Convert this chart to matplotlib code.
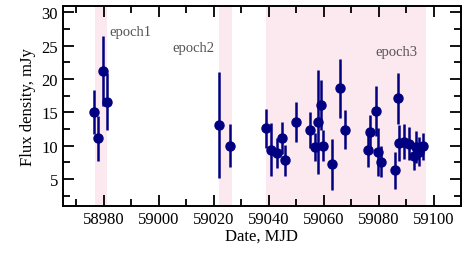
import matplotlib
matplotlib.use("Agg")
import matplotlib.pyplot as plt
from matplotlib.ticker import MultipleLocator

plt.rcParams['font.family'] = ['Liberation Serif', 'DejaVu Serif']

mjd = [58976.5, 58977.9, 58979.8, 58981.0, 59021.8, 59025.8, 59038.9, 59040.7,
       59043.0, 59045.0, 59046.1, 59050.0, 59055.0, 59056.9, 59058.0, 59059.1,
       59059.8, 59063.0, 59066.1, 59067.9, 59076.1, 59077.0, 59078.9, 59079.8,
       59080.8, 59086.1, 59087.0, 59087.6, 59089.1, 59090.9, 59092.9, 59093.7,
       59094.7, 59096.1]
flux = [15.1, 11.1, 21.2, 16.6, 13.1, 10.0, 12.6, 9.4,
        8.9, 11.1, 7.8, 13.6, 12.4, 9.8, 13.6, 16.1,
        10.0, 7.2, 18.6, 12.4, 9.3, 12.0, 15.2, 9.1,
        7.6, 6.3, 17.1, 10.4, 10.6, 10.3, 8.4, 9.8,
        9.1, 9.9]
err = [3.3, 3.4, 5.2, 4.3, 8.0, 3.2, 2.9, 4.0,
       2.2, 2.4, 2.3, 3.0, 2.7, 2.1, 7.8, 3.7,
       2.3, 3.8, 4.4, 2.9, 2.5, 2.6, 3.8, 3.6,
       2.3, 2.8, 3.8, 2.7, 2.6, 2.5, 2.0, 2.4,
       2.2, 2.0]

epoch_names = ['epoch1', 'epoch2', 'epoch3']
epoch_start = [58976.9, 59021.8, 59039.1]
epoch_end = [58981.1, 59026.7, 59097.2]
label_pos = [(58982.0, 27.1), (59005.0, 24.8), (59078.9, 24.2)]

fig = plt.figure(figsize=(4.63, 2.55), dpi=100)
ax = fig.add_axes([0.1354, 0.1894, 0.8603, 0.7843])

for s, e in zip(epoch_start, epoch_end):
    ax.axvspan(s, e, color='#fce8ef', lw=0, zorder=0)

ax.errorbar(mjd, flux, yerr=err, fmt='o', color='#000080', ms=6.5,
            elinewidth=1.8, capsize=0, zorder=3)

for name, (x, y) in zip(epoch_names, label_pos):
    ax.text(x, y, name, ha='left', va='center', fontsize=10.5, color='#555555')

ax.set_xlim(58965, 59110)
ax.set_ylim(1, 31)
ax.xaxis.set_major_locator(MultipleLocator(20))
ax.xaxis.set_minor_locator(MultipleLocator(10))
ax.yaxis.set_major_locator(MultipleLocator(5))
ax.yaxis.set_minor_locator(MultipleLocator(2.5))
ax.tick_params(which='both', direction='in', top=True, right=True, width=1.3,
               labelsize=12)
ax.tick_params(which='major', length=8)
ax.tick_params(which='minor', length=5)
for sp in ax.spines.values():
    sp.set_linewidth(1.4)
ax.ticklabel_format(useOffset=False, style='plain', axis='x')

ax.set_xlabel('Date, MJD', fontsize=12, labelpad=1)
ax.set_ylabel('Flux density, mJy', fontsize=12, labelpad=4)

fig.savefig('out.png', dpi=100)
